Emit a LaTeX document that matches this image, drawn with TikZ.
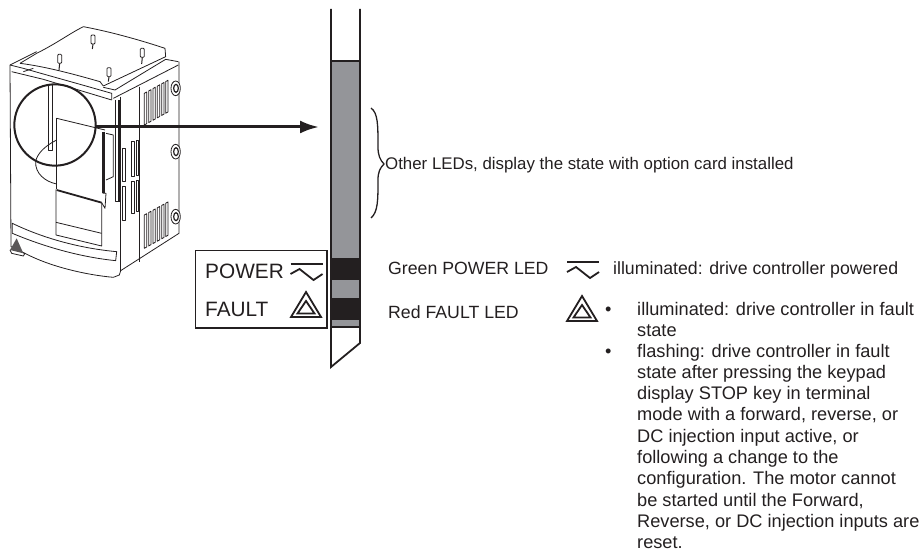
\documentclass[tikz,border=0pt]{standalone}
\usepackage{fontspec}
\setmainfont{Liberation Sans}
\usepackage{xcolor}
\usetikzlibrary{arrows.meta}
\definecolor{mygray}{RGB}{148,149,153}
\definecolor{myblack}{RGB}{35,31,32}
\tikzset{
  note/.style={inner sep=0pt,anchor=base west,font=\fontsize{17.7}{21.3}\selectfont,text=myblack},
  wide note/.style={note,font=\fontsize{16.85}{20}\selectfont},
  listing/.style={note,anchor=north west,align=left,font=\fontsize{18.2}{21.3}\selectfont},
  panel/.style={inner sep=0pt,anchor=base west,font=\fontsize{20.8}{24}\selectfont,text=myblack},
  hull/.style={line width=0.8pt,color=myblack,line join=round},
  thick hull/.style={line width=1.8pt,color=myblack},
  sign/.style={line width=1.8pt,color=myblack,line join=miter},
}
\newcommand{\acsign}[2]{
  \begin{scope}[shift={(#1,#2)}]
  \draw[sign] (-16,0) -- (16,0);
  \draw[sign] (-16,10) -- (-7,5) -- (7,16) -- (16,10);
  \end{scope}
}
\newcommand{\faultsign}[2]{
  \begin{scope}[shift={(#1,#2)}]
  \draw[sign] (0,3) -- (15,28) -- (-15,28) -- cycle;
  \draw[sign] (0,12) -- (8.5,24.5) -- (-8.5,24.5) -- cycle;
  \end{scope}
}
\begin{document}
\begin{tikzpicture}[x=1pt,y=-1pt]
\useasboundingbox (0,0) rectangle (923,553);

%%%%%%%%%%   drive
\begin{scope}[scale=1/3]
% lid
\draw[hull] (60,190) -- (110,160) .. controls (170,130) and (210,100) .. (250,80) .. controls (330,95) and (420,120) .. (495,145) -- (497,170) -- (310,258);
\draw[hull] (60,190) .. controls (140,200) and (230,225) .. (300,245) -- (310,258);
\draw[hull] (30,195) -- (110,155);
\draw[hull] (30,195) -- (70,205) .. controls (140,225) and (230,250) .. (300,270) -- (335,280) -- (335,300);
\draw[hull] (310,262) -- (345,270) -- (497,178) -- (535,185);
\draw[hull] (340,295) -- (535,195);
\draw[hull] (70,215) -- (100,205);
% body
\draw[hull] (30,195) -- (33,740) -- (75,760) .. controls (150,800) and (260,825) .. (340,832) -- (358,825) -- (362,812) -- (537,700) -- (537,185);
\draw[hull] (35,215) -- (130,238) -- (335,300);
\draw[hull] (362,290) -- (362,812);
\draw[hull] (418,260) -- (418,785);
% strip and mark
\draw[hull] (37,670) .. controls (130,715) and (240,745) .. (350,755) -- (347,782) .. controls (230,770) and (120,735) .. (37,700) -- cycle;
\fill[myblack!75] (50,715) -- (30,750) -- (70,760) -- cycle;
\draw[hull] (30,750) -- (35,760) -- (70,768) -- (75,760) -- (70,760);
% display
\draw[hull] (170,355) -- (315,390);
\draw[hull] (170,355) -- (170,568);
\draw[thick hull] (170,570) -- (305,608);
\draw[hull] (168,568) -- (168,705) -- (305,738) -- (305,608);
\draw[hull] (168,667) -- (305,700);
\draw[line width=3pt,color=myblack] (312,395) -- (312,580);
\draw[hull] (318,400) -- (340,405) -- (340,530) -- (318,540);
\draw[hull] (308,580) -- (318,580) -- (315,625) -- (305,608);
\draw[hull] (145,255) -- (145,450) -- (158,450) -- (158,255);
\draw[hull] (170,420) .. controls (130,440) and (110,465) .. (107,485) .. controls (105,520) and (135,545) .. (170,552);
% slots
\draw[hull] (345,300) -- (345,605) -- (358,605);
\draw[thick hull] (356,300) -- (356,605);
\foreach \sx in {433,446,459,472,485,497} {
  \draw[hull] (\sx,{280-0.55*(\sx-433)}) -- (\sx+7,{276-0.55*(\sx-433)}) -- (\sx+7,{371-0.55*(\sx-433)}) -- (\sx,{375-0.55*(\sx-433)}) -- cycle;
  \draw[hull] (\sx,{645-0.55*(\sx-433)}) -- (\sx+7,{641-0.55*(\sx-433)}) -- (\sx+7,{741-0.55*(\sx-433)}) -- (\sx,{745-0.55*(\sx-433)}) -- cycle;
}
\foreach \sx/\sa/\sb/\sc/\sd in {367/445/545/558/660,395/425/530/545/640,408/420/525/540/635} {
  \draw[hull] (\sx,\sa) rectangle (\sx+8,\sb);
  \draw[hull] (\sx,\sc) rectangle (\sx+8,\sd);
}
% screws
\foreach \sy in {265,455,650} {
  \draw[hull,fill=white] (527,\sy) ellipse (14 and 22);
  \draw[line width=1.2pt,color=myblack] (528,\sy) ellipse (7 and 12);
}
% lugs
\foreach \px/\py/\pl in {173/163/20,273/105/15,321/203/15,421/145/20} {
  \draw[hull,rounded corners=1pt] (\px,\py) rectangle (\px+12,\py+27);
  \draw[line width=1pt,color=myblack] (\px+6,\py+27) -- (\px+4,\py+27+\pl);
}
% magnifier
\draw[line width=2pt,color=myblack] (165,375) circle (122);
\end{scope}

\coordinate (circ) at (95,127);
\coordinate (tip) at (319,127);
\draw[-{Latex[length=19pt,width=13pt]},line width=3pt,color=myblack] (circ) -- (tip);

%%%%%%%%%%   LED strip
\fill[mygray] (331,61) rectangle (359,326);
\fill[myblack] (331,258) rectangle (359,280);
\fill[myblack] (331,298) rectangle (359,320);
\draw[line width=1.8pt,color=myblack] (331,9) -- (331,367) -- (360,343) -- (360,9);
\draw[line width=1.8pt,color=myblack] (331,61) -- (360,61);
\draw[line width=1.5pt,color=myblack] (331,327) -- (360,327);

%%%%%%%%%%   labels
\draw[line width=1.6pt,color=myblack] (195.5,250.5) rectangle (327,328);
\node[panel] (power) at (205,278) {POWER};
\node[panel] (fault) at (205,316) {FAULT};
\acsign{306.5}{264}
\faultsign{306}{289}

\draw[line width=1.3pt,color=myblack] (371,108) .. controls (378,113) and (378,125) .. (378,147) .. controls (378,155) and (380,160) .. (384,164) .. controls (380,168) and (378,172) .. (378,180) .. controls (378,200) and (378,212) .. (371,218);
\node[wide note] (other) at (385,170) {Other LEDs, display the state with option card installed};

\node[note] (green) at (388,275) {Green POWER LED};
\node[note] (red) at (388,318) {Red FAULT LED};
\acsign{583}{262}
\node[note] (lit) at (613,275) {illuminated: drive controller powered};
\faultsign{582}{293}

\node[note,font=\fontsize{18.2}{21.3}\selectfont] (bulleta) at (605,315) {•};
\node[note,font=\fontsize{18.2}{21.3}\selectfont] (bulletb) at (605,357) {•};
\node[listing] (texta) at (637,301.7) {illuminated: drive controller in fault\\state};
\node[listing] (textb) at (637,343.7) {flashing: drive controller in fault\\state after pressing the keypad\\display STOP key in terminal\\mode with a forward, reverse, or\\DC injection input active, or\\following a change to the\\configuration. The motor cannot\\be started until the Forward,\\Reverse, or DC injection inputs are\\reset.};
\end{tikzpicture}
\end{document}
